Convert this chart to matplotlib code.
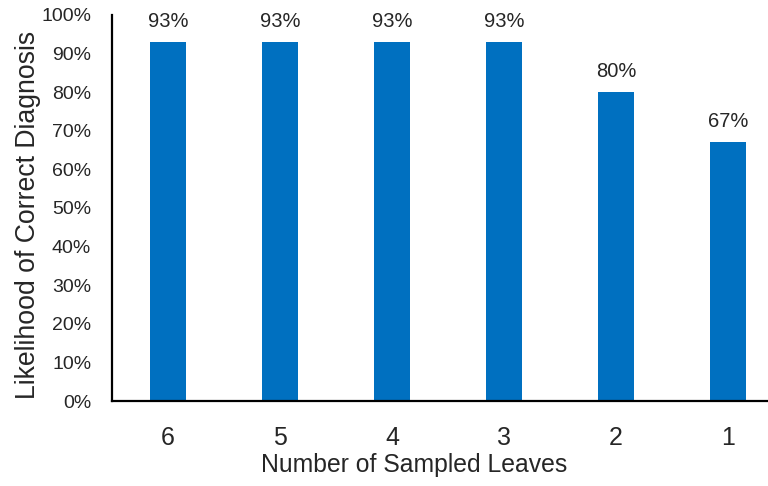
import matplotlib
matplotlib.use("Agg")
import matplotlib.pyplot as plt
from matplotlib.ticker import PercentFormatter

# leaves sampled per plant vs. diagnosis success rate
categories = ["6", "5", "4", "3", "2", "1"]
likelihood = [93, 93, 93, 93, 80, 67]
bar_labels = ["93%", "93%", "93%", "93%", "80%", "67%"]
yticks = list(range(0, 101, 10))

plt.rcParams["font.family"] = ["Liberation Sans", "DejaVu Sans"]
text_color = "#262626"

fig = plt.figure(figsize=(7.68, 4.86), dpi=100)
# axes runs past the right edge of the figure, as the original export does
ax = fig.add_axes([112 / 768, 1 - 401 / 486, 672 / 768, 386 / 486])

x = range(len(categories))
bars = ax.bar(x, likelihood, width=0.33, color="#0070C0", zorder=2)
for rect, lab in zip(bars, bar_labels):
    ax.annotate(lab, (rect.get_x() + rect.get_width() / 2, rect.get_height()),
                xytext=(0, 11), textcoords="offset points",
                ha="center", va="baseline", fontsize=14.5, color=text_color)

ax.set_xlim(-0.5, len(categories) - 0.5)
ax.set_ylim(0, 100)
ax.set_yticks(yticks)
ax.yaxis.set_major_formatter(PercentFormatter(decimals=0))
ax.set_xticks(list(x))
ax.set_xticklabels(categories)

ax.tick_params(axis="y", length=0, pad=15, labelsize=14, labelcolor=text_color)
ax.tick_params(axis="x", length=0, pad=18, labelsize=18, labelcolor=text_color)

for side in ["top", "right"]:
    ax.spines[side].set_visible(False)
for side in ["left", "bottom"]:
    ax.spines[side].set_linewidth(1.6)
    ax.spines[side].set_color("black")

ax.set_xlabel("Number of Sampled Leaves", fontsize=17.8, color=text_color)
ax.set_ylabel("Likelihood of Correct Diagnosis", fontsize=19.2, color=text_color)
ax.xaxis.set_label_coords(0.450, -0.135)
ax.yaxis.set_label_coords(-0.105, 0.481)

fig.savefig("out.png", dpi=100)
